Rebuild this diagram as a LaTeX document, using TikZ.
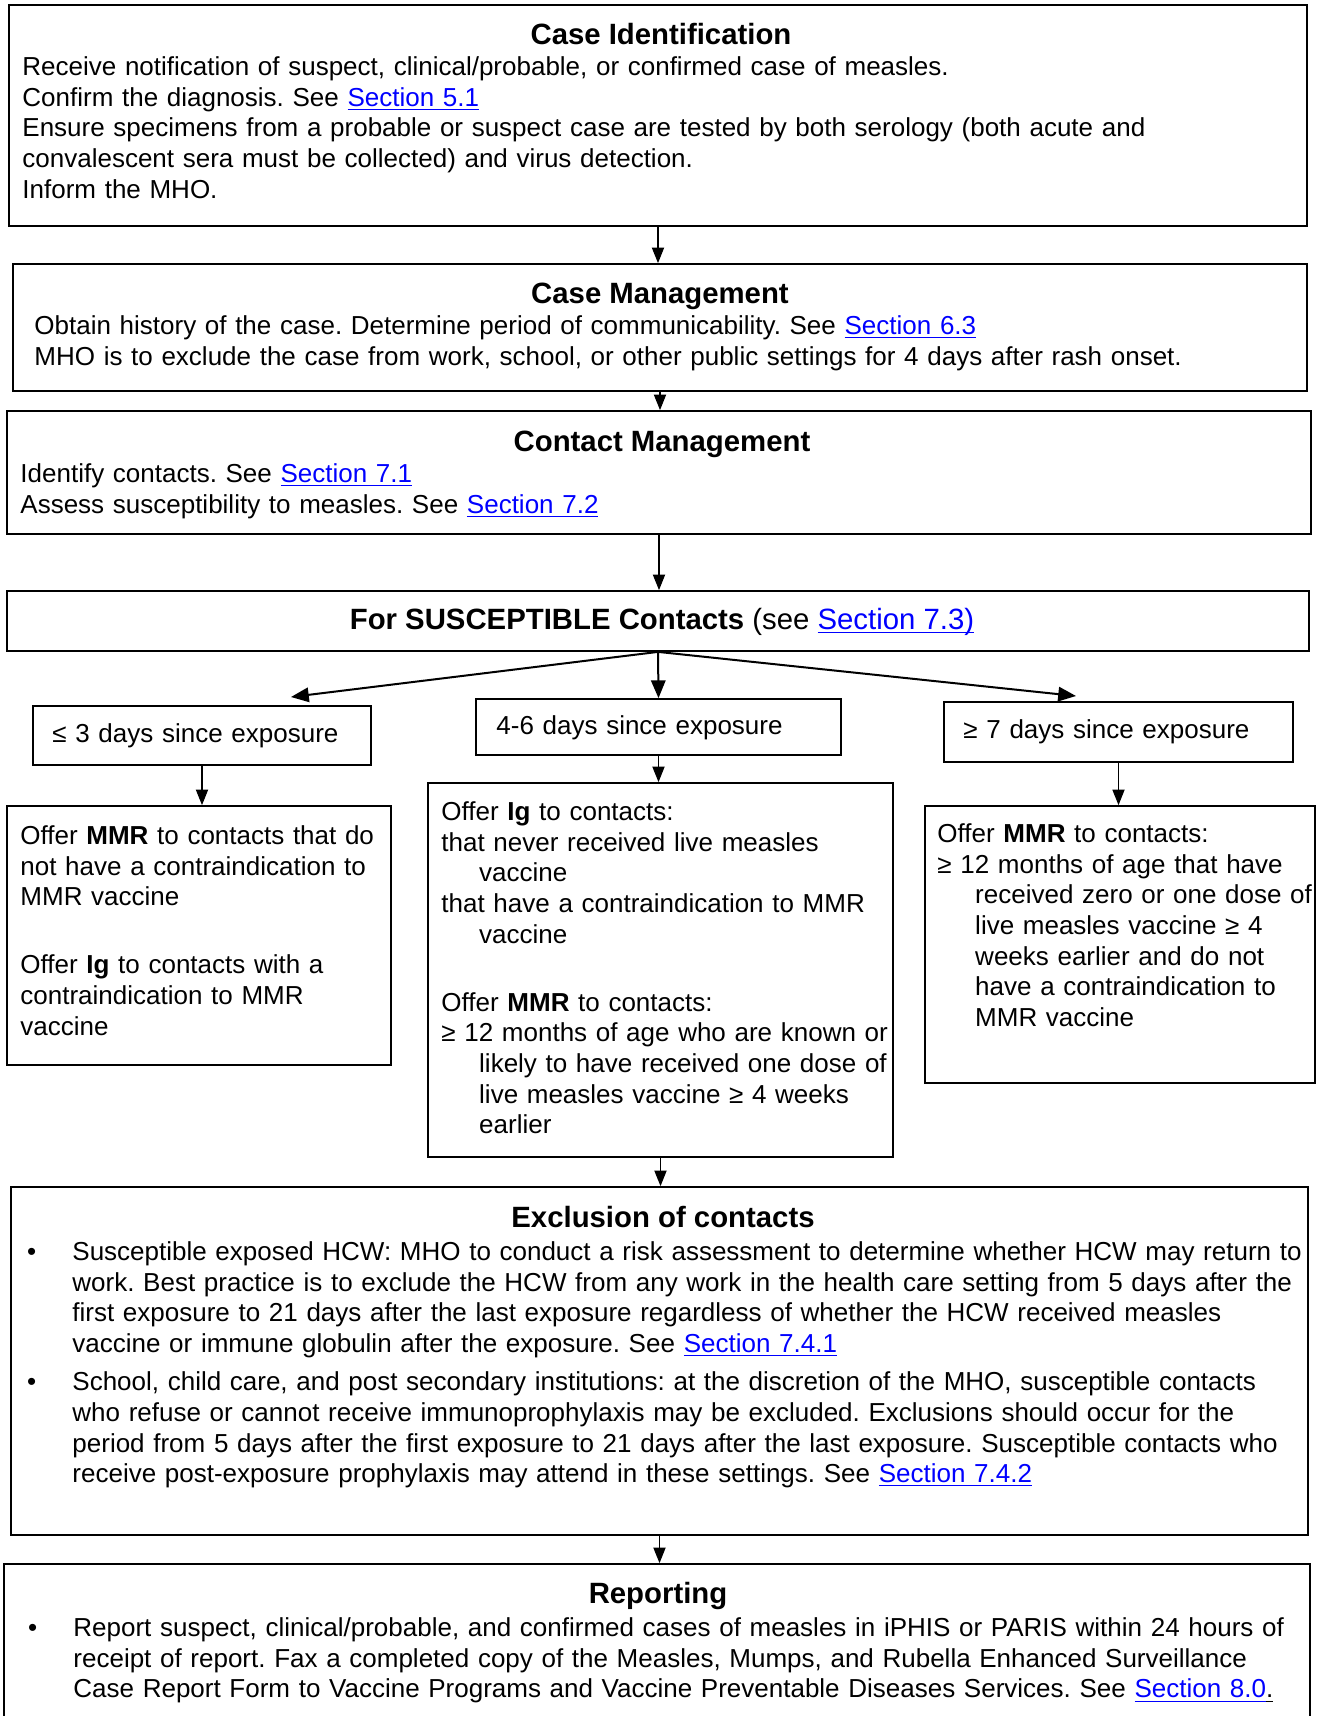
\documentclass[tikz,border=0pt]{standalone}
\usepackage{fontspec}
\setmainfont{Liberation Sans}
\usepackage{xcolor}
\usepackage{tikz}
\usetikzlibrary{arrows.meta}
\usetikzlibrary{fit}
\newcommand{\px}{0.45pt}
\newcommand{\bodyfont}{\fontsize{11.7}{13.8}\selectfont\frenchspacing}
\newcommand{\headfont}{\fontsize{13.2}{15}\selectfont\bfseries}
\newcommand{\seclink}[1]{\textcolor{blue}{\underline{\smash{#1}}}}
\newcommand{\bul}{\makebox[0pt][r]{\textbullet\hspace{16.3pt}}}
\newcommand{\contline}{\hspace*{17pt}}
\newcommand{\gapline}{16.8pt}
\tikzset{
    box/.style={draw, rectangle, line width=0.8pt, inner sep=0pt},
    head/.style={anchor=base, inner sep=0pt, font=\headfont},
    body/.style={anchor=base west, inner sep=0pt, align=left, text width=600pt, font=\bodyfont},
    arr/.style={-{Triangle[length=7pt, width=5.5pt]}, line width=0.5pt},
    fork/.style={-{Triangle[length=8pt, width=6.5pt]}, line width=0.9pt}
}
\begin{document}
\begin{tikzpicture}[x=\px, y=-\px]
      \useasboundingbox (0,0) rectangle (1323,1716);
      \clip (0,0) rectangle (1323,1716);

      % frames
      \node[box, fit={(9,5) (1307,226)}] (ident) {};
      \node[box, fit={(13,264) (1307,391)}] (manage) {};
      \node[box, fit={(7,411) (1311,534)}] (contact) {};
      \node[box, fit={(7,591) (1309,651)}] (suscept) {};
      \node[box, fit={(33,706) (371,765)}] (early) {};
      \node[box, fit={(476,699) (841,755)}] (mid) {};
      \node[box, fit={(944,702) (1293,762)}] (late) {};
      \node[box, fit={(7,806) (391,1065)}] (offerearly) {};
      \node[box, fit={(428,783) (893,1157)}] (offermid) {};
      \node[box, fit={(925,806) (1315,1083)}] (offerlate) {};
      \node[box, fit={(11,1187) (1308,1535)}] (exclude) {};
      \node[box, fit={(4,1564) (1310,1760)}] (report) {};

      % texts
      \node[head] (ident-head) at (661,44.5) {Case Identification};
      \node[body] (ident-body) at (22,75.5) {Receive notification of suspect, clinical/probable, or confirmed case of measles.\\
          Confirm the diagnosis. See \seclink{Section 5.1}\\
          Ensure specimens from a probable or suspect case are tested by both serology (both acute and\\
          convalescent sera must be collected) and virus detection.\\
          Inform the MHO.};

      \node[head] (manage-head) at (660,303.5) {Case Management};
      \node[body] (manage-body) at (34,334.5) {Obtain history of the case. Determine period of communicability. See \seclink{Section 6.3}\\
          MHO is to exclude the case from work, school, or other public settings for 4 days after rash onset.};

      \node[head] (contact-head) at (662,451.5) {Contact Management};
      \node[body] (contact-body) at (20,482.5) {Identify contacts. See \seclink{Section 7.1}\\
          Assess susceptibility to measles. See \seclink{Section 7.2}};

      \node[head] (suscept-head) at (662,629) {For SUSCEPTIBLE Contacts \mdseries(see \seclink{Section 7.3)}};

      \node[body] (early-body) at (52,742) {≤ 3 days since exposure};
      \node[body] (mid-body) at (496,734.5) {4-6 days since exposure};
      \node[body] (late-body) at (963,738.5) {≥ 7 days since exposure};

      \node[body] (offerearly-body) at (20,844.5) {Offer \textbf{MMR} to contacts that do\\
          not have a contraindication to\\
          MMR vaccine\\[\gapline]
          Offer \textbf{Ig} to contacts with a\\
          contraindication to MMR\\
          vaccine};

      \node[body] (offermid-body) at (441,820.5) {Offer \textbf{Ig} to contacts:\\
          that never received live measles\\
          \contline vaccine\\
          that have a contraindication to MMR\\
          \contline vaccine\\[\gapline]
          Offer \textbf{MMR} to contacts:\\
          ≥ 12 months of age who are known or\\
          \contline likely to have received one dose of\\
          \contline live measles vaccine ≥ 4 weeks\\
          \contline earlier};

      \node[body] (offerlate-body) at (937,842.5) {Offer \textbf{MMR} to contacts:\\
          ≥ 12 months of age that have\\
          \contline received zero or one dose of\\
          \contline live measles vaccine ≥ 4\\
          \contline weeks earlier and do not\\
          \contline have a contraindication to\\
          \contline MMR vaccine};

      \node[head] (exclude-head) at (663,1227.5) {Exclusion of contacts};
      \node[body] (exclude-body) at (72,1260.5) {\bul Susceptible exposed HCW: MHO to conduct a risk assessment to determine whether HCW may return to\\
          work. Best practice is to exclude the HCW from any work in the health care setting from 5 days after the\\
          first exposure to 21 days after the last exposure regardless of whether the HCW received measles\\
          vaccine or immune globulin after the exposure. See \seclink{Section 7.4.1}\\[3.4pt]
          \bul School, child care, and post secondary institutions: at the discretion of the MHO, susceptible contacts\\
          who refuse or cannot receive immunoprophylaxis may be excluded. Exclusions should occur for the\\
          period from 5 days after the first exposure to 21 days after the last exposure. Susceptible contacts who\\
          receive post-exposure prophylaxis may attend in these settings. See \seclink{Section 7.4.2}};

      \node[head] (report-head) at (658,1603.5) {Reporting};
      \node[body] (report-body) at (73,1636.5) {\bul Report suspect, clinical/probable, and confirmed cases of measles in iPHIS or PARIS within 24 hours of\\
          receipt of report. Fax a completed copy of the Measles, Mumps, and Rubella Enhanced Surveillance\\
          Case Report Form to Vaccine Programs and Vaccine Preventable Diseases Services. See \seclink{Section 8.0}\underline{.}};

      % connectors
      \coordinate (early-in) at (291,697);
      \coordinate (late-in) at (1076,696);
      \draw[arr] (ident.south) -- (ident.south |- manage.north);
      \draw[arr] (manage.south) -- (manage.south |- contact.north);
      \draw[arr] (contact.south) -- (contact.south |- suscept.north);
      \draw[fork] (suscept.south) -- (early-in);
      \draw[fork] (suscept.south) -- (mid.north);
      \draw[fork] (suscept.south) -- (late-in);
      \draw[arr] (early.south) -- (early.south |- offerearly.north);
      \draw[arr] (mid.south) -- (mid.south |- offermid.north);
      \draw[arr] (late.south) -- (late.south |- offerlate.north);
      \draw[arr] (offermid.south) -- (offermid.south |- exclude.north);
      \draw[arr] (exclude.south) -- (exclude.south |- report.north);
\end{tikzpicture}
\end{document}
